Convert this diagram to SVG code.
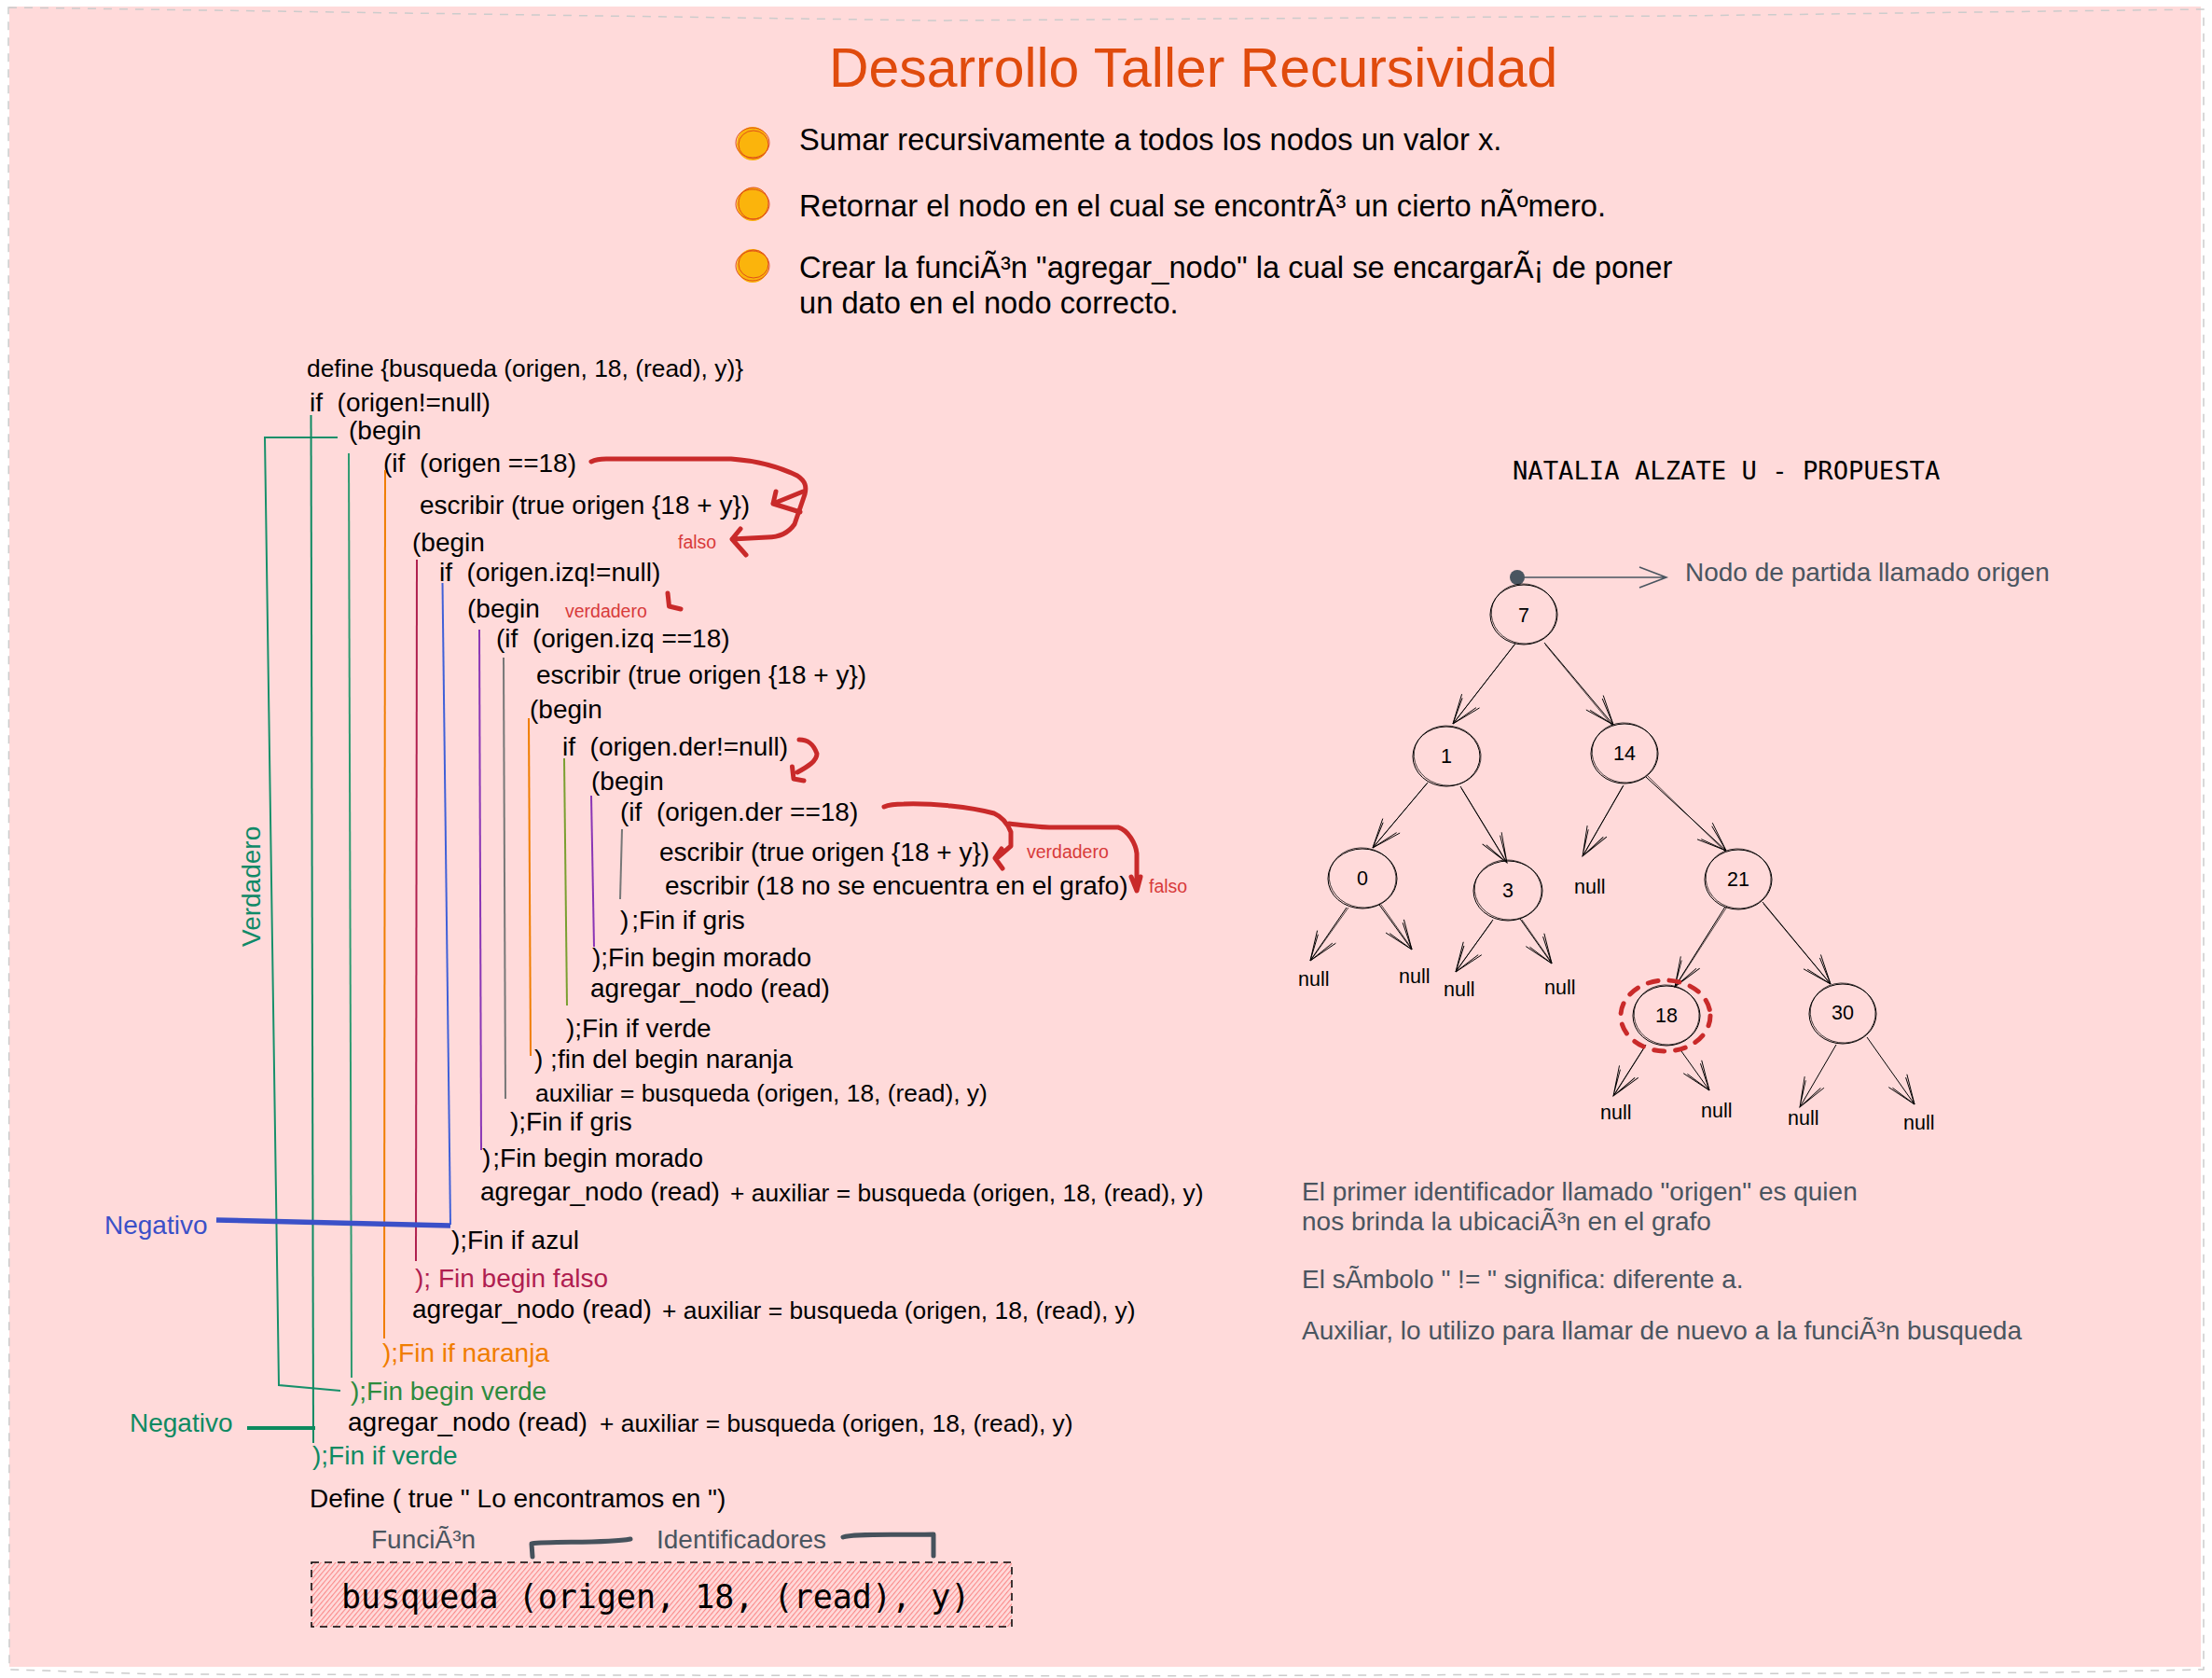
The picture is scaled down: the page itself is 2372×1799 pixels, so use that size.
<svg xmlns="http://www.w3.org/2000/svg" width="2372" height="1799" viewBox="0 0 2372 1799" xml:space="preserve">
<style>
text{font-family:"Liberation Sans",Arial,sans-serif;fill:#000;white-space:pre}
.c{font-size:28px}.s{font-size:26.4px}
.g{font-size:28px;fill:#4a5560}
.b{font-size:32.67px}
.n{font-size:21.5px}
.nc{font-size:21.5px;text-anchor:middle}
.r{font-size:19.500px;fill:#d83a3a}
.v{fill:none;stroke-width:2}
.e{fill:none;stroke:#000;stroke-width:1}
.e2{fill:none;stroke:#000;stroke-width:.7}
.t{fill:none;stroke:#000;stroke-width:1;marker-end:url(#open)}
.t2{fill:none;stroke:#000;stroke-width:.7}
.red{fill:none;stroke:#c92a2a;stroke-width:5;stroke-linecap:round;stroke-linejoin:round}
.blt{fill:#fbb40c;stroke:none}
.bls{fill:none;stroke:#e0501a;stroke-width:1}
.gb{fill:none;stroke:#46525c;stroke-width:5;stroke-linecap:round;stroke-linejoin:round}
</style>
<defs>
<marker id="open" markerUnits="userSpaceOnUse" markerWidth="40" markerHeight="36" refX="34" refY="18" orient="auto" viewBox="0 0 40 36">
<path d="M3 6L34 18L3 30M5 9L34 18L6 27" fill="none" stroke="#000" stroke-width=".9"/>
</marker>
<pattern id="hach" width="4" height="4" patternUnits="userSpaceOnUse" patternTransform="rotate(-50)">
<rect width="4" height="4" fill="#ffdada"/><rect width="4" height="1.100" fill="#fa8a8a"/>
</pattern>
</defs>
<rect width="2372" height="1799" fill="#fff"/>
<g id="background">
<rect x="10" y="7" width="2350" height="1780" fill="#ffdada"/>
<path d="M9 8L1000 22L1800 17L2200 12L2363 10L2363 1790L2200 1793L1200 1797L172 1795L10 1790Z" fill="none" stroke="#ccc" stroke-width="1.500" stroke-dasharray="9 8"/>
</g>
<g id="heading">
<text x="889" y="93" style="font-size:58.9px;fill:#e04b0d">Desarrollo Taller Recursividad</text>
<g id="bullet1"><ellipse class="blt" cx="807" cy="154" rx="17" ry="18"/><ellipse class="bls" cx="807" cy="153" rx="18" ry="16"/><ellipse class="bls" cx="808" cy="155" rx="16" ry="15"/></g>
<g id="bullet2"><ellipse class="blt" cx="807" cy="219" rx="17" ry="18"/><ellipse class="bls" cx="807" cy="219" rx="18" ry="16"/><ellipse class="bls" cx="808" cy="218" rx="16" ry="17"/></g>
<g id="bullet3"><ellipse class="blt" cx="807" cy="285" rx="17" ry="18"/><ellipse class="bls" cx="807" cy="285" rx="18" ry="16"/><ellipse class="bls" cx="808" cy="283" rx="16" ry="15"/></g>
<text class="b" x="857" y="161">Sumar recursivamente a todos los nodos un valor x.</text>
<text class="b" x="857" y="232">Retornar el nodo en el cual se encontrÃ³ un cierto nÃºmero.</text>
<text class="b" x="857" y="298">Crear la funciÃ³n "agregar_nodo" la cual se encargarÃ¡ de poner</text>
<text class="b" x="857" y="336">un dato en el nodo correcto.</text>
</g>
<g id="code">
<text class="s" x="329" y="404">define {busqueda (origen, 18, (read), y)}</text>
<text class="c" x="332" y="441">if  (origen!=null)</text>
<text class="c" x="374" y="471">(begin</text>
<text class="c" x="411" y="506">(if  (origen ==18)</text>
<text class="c" x="450" y="551">escribir (true origen {18 + y})</text>
<text class="c" x="442" y="591">(begin</text>
<text class="c" x="471" y="623">if  (origen.izq!=null)</text>
<text class="c" x="501" y="662">(begin</text>
<text class="c" x="532" y="694">(if  (origen.izq ==18)</text>
<text class="c" x="575" y="733">escribir (true origen {18 + y})</text>
<text class="c" x="568" y="770">(begin</text>
<text class="c" x="603" y="810">if  (origen.der!=null)</text>
<text class="c" x="634" y="847">(begin</text>
<text class="c" x="665" y="880">(if  (origen.der ==18)</text>
<text class="c" x="707" y="923">escribir (true origen {18 + y})</text>
<text class="c" x="713" y="959">escribir (18 no se encuentra en el grafo)</text>
<text class="c" x="665" y="996">)<tspan dx="3">;Fin if gris</tspan></text>
<text class="c" x="635" y="1036">);Fin begin morado</text>
<text class="c" x="633" y="1069">agregar_nodo (read)</text>
<text class="c" x="607" y="1112">);Fin if verde</text>
<text class="c" x="573" y="1145">) ;fin del begin naranja</text>
<text class="s" x="574" y="1181">auxiliar = busqueda (origen, 18, (read), y)</text>
<text class="c" x="547" y="1212">);Fin if gris</text>
<text class="c" x="517" y="1251">)<tspan dx="2">;Fin begin morado</tspan></text>
<text class="c" x="515" y="1287">agregar_nodo (read)</text>
<text class="s" x="783" y="1288">+ auxiliar = busqueda (origen, 18, (read), y)</text>
<text class="c" x="484" y="1339">);Fin if azul</text>
<text class="c" x="445" y="1380" style="fill:#b01e50">); Fin begin falso</text>
<text class="c" x="442" y="1413">agregar_nodo (read)</text>
<text class="s" x="710" y="1414">+ auxiliar = busqueda (origen, 18, (read), y)</text>
<text class="c" x="410" y="1460" style="fill:#f07d00">);Fin if naranja</text>
<text class="c" x="376" y="1501" style="fill:#2e8b3e">);Fin begin verde</text>
<text class="c" x="373" y="1534">agregar_nodo (read)</text>
<text class="s" x="643" y="1535">+ auxiliar = busqueda (origen, 18, (read), y)</text>
<text class="c" x="335" y="1570" style="fill:#0e8a62">);Fin if verde</text>
<text class="c" x="332" y="1616">Define ( true " Lo encontramos en ")</text>
<text class="r" x="727" y="588">falso</text>
<text class="r" x="606" y="662">verdadero</text>
<text class="r" x="1101" y="920">verdadero</text>
<text class="r" x="1232" y="957">falso</text>
<text class="c" x="112" y="1323" style="fill:#3b50c8">Negativo</text>
<text class="c" x="139" y="1535" style="fill:#0e8a62">Negativo</text>
<text class="c" transform="translate(279 1015) rotate(-90)" style="fill:#108a68">Verdadero</text>
</g>
<g id="scope-lines">
<path class="v" stroke="#17906a" d="M362 469L284 469L299 1485L365 1491"/>
<path class="v" stroke="#0e8a62" d="M333.500 445L336 1547"/>
<path class="v" stroke="#2e9a70" d="M374 486L377 1477"/>
<path class="v" stroke="#f07d00" d="M413 504L412 1435"/>
<path class="v" stroke="#b0204f" d="M447 600L446 1352"/>
<path class="v" stroke="#4060d8" d="M474.500 625L483 1313"/>
<path d="M232 1308L483 1314" fill="none" stroke="#3b50c8" stroke-width="5.500"/>
<path class="v" stroke="#8a35b5" d="M514 675L516 1233"/>
<path class="v" stroke="#777" d="M540 705L542 1178"/>
<path class="v" stroke="#f07d00" d="M567 770L569 1132"/>
<path class="v" stroke="#7a9f30" d="M605 813L608 1078"/>
<path class="v" stroke="#8a35b5" d="M634 853L637 1015"/>
<path class="v" stroke="#777" stroke-width="3" d="M667 889L665 964"/>
<path d="M265 1531L338 1531" fill="none" stroke="#0b8a5e" stroke-width="4"/>
</g>
<g id="red-arrows">
<path class="red" d="M634 495C640 492 645 492 650 492L784 492C810 494 835 500 855 510C864 516 865 522 863 530L852 562C845 572 835 576 823 576L785 578M794 567L785 578L800 595"/>
<path class="red" d="M861 527L829 540M832 527L829 540L858 549"/>
<path class="red" d="M716 636L717.500 650L730 653"/>
<path class="red" d="M857 793C866 793 872 797 876 808C876 816 866 822 855 828M849.500 822L851 835L862 837"/>
<path class="red" d="M948 865C955 862 965 862 969 862C1000 861 1040 865 1066 872C1075 876 1080 882 1084 892L1084 907L1069 920M1074 910L1067 920L1075 931"/>
<path class="red" d="M1082 883C1100 885 1115 887 1128 887L1199 887C1210 890 1218 905 1219 915L1219 953M1213 940L1219 955L1223 940"/>
</g>
<g id="function-box">
<rect x="334" y="1675" width="751" height="69" fill="url(#hach)" stroke="#000" stroke-width="1.500" stroke-dasharray="8 6"/>
<text x="366" y="1724" style="font-family:'DejaVu Sans Mono',monospace;font-size:35px">busqueda (origen, 18, (read), y)</text>
<text class="g" x="398" y="1660">FunciÃ³n</text>
<text class="g" x="704" y="1660">Identificadores</text>
<path class="gb" d="M571 1669L570 1655C590 1652 650 1655 676 1650"/>
<path class="gb" d="M904 1648C915 1644 950 1646 1001 1645L1001 1668"/>
</g>
<text x="1622" y="514" style="font-family:'DejaVu Sans Mono',monospace;font-size:27.2px">NATALIA ALZATE U - PROPUESTA</text>
<g id="origin-pointer">
<ellipse cx="1627" cy="619" rx="8" ry="8" fill="#4a5560"/>
<path d="M1627 619L1787 619M1758 608L1787 619L1758 630" fill="none" stroke="#4a5560" stroke-width="1.500"/>
<text class="g" x="1807" y="623">Nodo de partida llamado origen</text>
</g>
<g id="connectors">
<path class="t" d="M1625 690L1558 776"/><path class="t2" d="M1624 691L1559 775"/>
<path class="t" d="M1656 689L1730 777"/><path class="t2" d="M1657 691L1729 778"/>
<path class="t" d="M1531 839L1472 909"/><path class="t2" d="M1530 840L1473 908"/>
<path class="t" d="M1566 843L1616 925"/><path class="t2" d="M1567 845L1615 924"/>
<path class="t" d="M1741 842L1697 918"/><path class="t2" d="M1740 843L1698 917"/>
<path class="t" d="M1765 833L1851 912"/><path class="t2" d="M1767 832L1850 913"/>
<path class="t" d="M1444 973L1405 1030"/><path class="t2" d="M1446 973L1406 1029"/>
<path class="t" d="M1479 970L1514 1018"/><path class="t2" d="M1481 970L1514 1017"/>
<path class="t" d="M1601 986L1561 1042"/><path class="t2" d="M1600 988L1562 1040"/>
<path class="t" d="M1630 985L1664 1033"/><path class="t2" d="M1632 986L1664 1032"/>
<path class="t" d="M1850 972L1796 1058"/><path class="t2" d="M1852 972L1797 1057"/>
<path class="t" d="M1890 967L1963 1055"/><path class="t2" d="M1891 969L1962 1054"/>
<path class="t" d="M1765 1120L1730 1175"/><path class="t2" d="M1764 1122L1731 1174"/>
<path class="t" d="M1803 1127L1833 1169"/>
<path class="t" d="M1969 1120L1930 1187"/>
<path class="t" d="M2002 1112L2053 1184"/>
</g>
<g id="node-7"><ellipse class="e" cx="1634" cy="659" rx="36" ry="32"/><ellipse class="e2" cx="1634" cy="658" rx="35" ry="32" transform="rotate(8 1634 659)"/><text class="nc" x="1634" y="667">7</text></g>
<g id="node-1"><ellipse class="e" cx="1551" cy="811" rx="36" ry="32"/><ellipse class="e2" cx="1552" cy="810" rx="36" ry="32" transform="rotate(8 1551 811)"/><text class="nc" x="1551" y="818">1</text></g>
<g id="node-14"><ellipse class="e" cx="1742" cy="808" rx="36" ry="32"/><ellipse class="e2" cx="1742" cy="807" rx="35" ry="32" transform="rotate(8 1742 808)"/><text class="nc" x="1742" y="815">14</text></g>
<g id="node-0"><ellipse class="e" cx="1461" cy="942" rx="37" ry="32"/><ellipse class="e2" cx="1461" cy="941" rx="36" ry="32" transform="rotate(8 1461 942)"/><text class="nc" x="1461" y="949">0</text></g>
<g id="node-3"><ellipse class="e" cx="1617" cy="955" rx="37" ry="32"/><ellipse class="e2" cx="1617" cy="954" rx="36" ry="32" transform="rotate(8 1617 955)"/><text class="nc" x="1617" y="962">3</text></g>
<g id="node-21"><ellipse class="e" cx="1864" cy="943" rx="36" ry="32"/><ellipse class="e2" cx="1864" cy="942" rx="35" ry="32" transform="rotate(8 1864 943)"/><text class="nc" x="1864" y="950">21</text></g>
<g id="node-18"><ellipse class="e" cx="1787" cy="1089" rx="36" ry="32"/><ellipse class="e2" cx="1787" cy="1088" rx="35" ry="32" transform="rotate(8 1787 1089)"/><text class="nc" x="1787" y="1096">18</text>
<ellipse cx="1786" cy="1089" rx="48" ry="38" fill="none" stroke="#c92a2a" stroke-width="5" stroke-linecap="round" stroke-dasharray="11 12"/></g>
<g id="node-30"><ellipse class="e" cx="1976" cy="1087" rx="36" ry="32"/><ellipse class="e2" cx="1976" cy="1086" rx="35" ry="32" transform="rotate(8 1976 1087)"/><text class="nc" x="1976" y="1093">30</text></g>
<g id="null-labels">
<text class="n" x="1392" y="1057">null</text>
<text class="n" x="1500" y="1054">null</text>
<text class="n" x="1548" y="1068">null</text>
<text class="n" x="1656" y="1066">null</text>
<text class="n" x="1688" y="958">null</text>
<text class="n" x="1716" y="1200">null</text>
<text class="n" x="1824" y="1198">null</text>
<text class="n" x="1917" y="1206">null</text>
<text class="n" x="2041" y="1211">null</text>
</g>
<g id="notes">
<text class="g" x="1396" y="1287">El primer identificador llamado "origen" es quien</text>
<text class="g" x="1396" y="1319">nos brinda la ubicaciÃ³n en el grafo</text>
<text class="g" x="1396" y="1381">El sÃ­mbolo " != " significa: diferente a.</text>
<text class="g" x="1396" y="1436">Auxiliar, lo utilizo para llamar de nuevo a la funciÃ³n busqueda</text>
</g>
</svg>
